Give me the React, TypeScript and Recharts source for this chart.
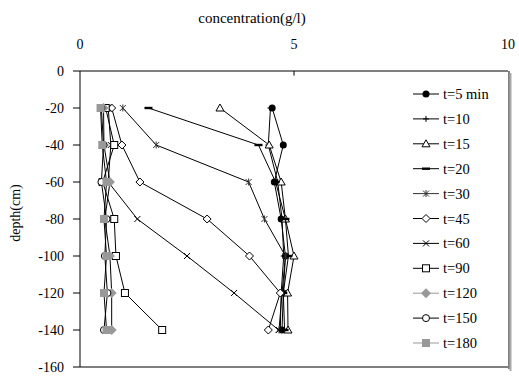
import React from 'react';
import { ScatterChart, Scatter, XAxis, YAxis, ReferenceLine, Label } from 'recharts';

const depths = [-20, -40, -60, -80, -100, -120, -140];
const t5 = [4.49, 4.75, 4.54, 4.7, 4.8, 4.75, 4.72];
const t10 = [4.45, 4.4, 4.62, 4.72, 4.76, 4.7, 4.68];
const t15 = [3.27, 4.42, 4.7, 4.8, 5.0, 4.85, 4.86];
const t20 = [1.6, 4.17, 4.57, 4.8, 4.87, 4.75, 4.78];
const t30 = [1.0, 1.78, 3.94, 4.31, 4.8, 4.72, 4.65];
const t45 = [0.74, 0.98, 1.4, 2.97, 3.96, 4.68, 4.4];
const t60 = [0.66, 0.72, 0.66, 1.34, 2.5, 3.6, 4.64];
const t90 = [0.6, 0.8, 0.53, 0.8, 0.84, 1.05, 1.92];
const t120 = [0.55, 0.56, 0.7, 0.58, 0.7, 0.74, 0.74];
const t150 = [0.5, 0.55, 0.5, 0.62, 0.58, 0.64, 0.56];
const t180 = [0.48, 0.52, 0.62, 0.56, 0.62, 0.56, 0.62];

const xTicks = [0, 5, 10];
const yTicks = [0, -20, -40, -60, -80, -100, -120, -140, -160];

const FONT = 'Liberation Serif';
const GRAY = '#999';

const series = [
  { name: 't=5 min', values: t5, marker: 'dot', color: '#000' },
  { name: 't=10', values: t10, marker: 'plus', color: '#000' },
  { name: 't=15', values: t15, marker: 'triangle', color: '#000' },
  { name: 't=20', values: t20, marker: 'dash', color: '#000' },
  { name: 't=30', values: t30, marker: 'star', color: '#333' },
  { name: 't=45', values: t45, marker: 'diamond', color: '#000' },
  { name: 't=60', values: t60, marker: 'cross', color: '#000' },
  { name: 't=90', values: t90, marker: 'square', color: '#000' },
  { name: 't=120', values: t120, marker: 'grayDiamond', color: GRAY },
  { name: 't=150', values: t150, marker: 'circle', color: '#000' },
  { name: 't=180', values: t180, marker: 'graySquare', color: GRAY },
];

function marker(kind: string, cx: number, cy: number) {
  switch (kind) {
    case 'dot':
      return <circle cx={cx} cy={cy} r={3.5} fill="#000" />;
    case 'plus':
      return (
        <g stroke="#000" strokeWidth={1}>
          <line x1={cx - 3} y1={cy} x2={cx + 3} y2={cy} />
          <line x1={cx} y1={cy - 3} x2={cx} y2={cy + 3} />
        </g>
      );
    case 'triangle':
      return <polygon points={`${cx},${cy - 4} ${cx - 4},${cy + 3} ${cx + 4},${cy + 3}`} fill="#fff" stroke="#000" />;
    case 'dash':
      return <rect x={cx - 4} y={cy - 1.2} width={8} height={2.4} fill="#000" />;
    case 'star':
      return (
        <g stroke="#333" strokeWidth={1}>
          <line x1={cx - 3} y1={cy - 3} x2={cx + 3} y2={cy + 3} />
          <line x1={cx - 3} y1={cy + 3} x2={cx + 3} y2={cy - 3} />
          <line x1={cx} y1={cy - 3.5} x2={cx} y2={cy + 3.5} />
        </g>
      );
    case 'diamond':
      return <polygon points={`${cx},${cy - 4} ${cx + 4},${cy} ${cx},${cy + 4} ${cx - 4},${cy}`} fill="#fff" stroke="#000" />;
    case 'cross':
      return (
        <g stroke="#000" strokeWidth={1}>
          <line x1={cx - 3} y1={cy - 3} x2={cx + 3} y2={cy + 3} />
          <line x1={cx - 3} y1={cy + 3} x2={cx + 3} y2={cy - 3} />
        </g>
      );
    case 'square':
      return <rect x={cx - 3.5} y={cy - 3.5} width={7} height={7} fill="#fff" stroke="#000" />;
    case 'grayDiamond':
      return <polygon points={`${cx},${cy - 5} ${cx + 5},${cy} ${cx},${cy + 5} ${cx - 5},${cy}`} fill={GRAY} />;
    case 'circle':
      return <circle cx={cx} cy={cy} r={3.5} fill="#fff" stroke="#000" />;
    case 'graySquare':
      return <rect x={cx - 4} y={cy - 4} width={8} height={8} fill={GRAY} />;
    default:
      return <g />;
  }
}

const textStyle = { fontFamily: FONT, fontSize: 14, fill: '#000' };

export default function App() {
  return (
    <div style={{ position: 'absolute', left: 0, top: 0, width: 519, height: 381, background: '#fff', fontFamily: FONT }}>
      <ScatterChart width={519} height={381} margin={{ top: 0, right: 11, bottom: 14, left: 0 }}>
        <XAxis
          type="number"
          dataKey="x"
          orientation="top"
          domain={[0, 10]}
          ticks={xTicks}
          height={71}
          tickLine={false}
          tickSize={0}
          tickMargin={22}
          axisLine={{ stroke: '#000' }}
          tick={{ ...textStyle, fontSize: 14 }}
        >
          <Label
            content={() => (
              <text x={252} y={23} textAnchor="middle" fontFamily={FONT} fontSize={15} fill="#000">
                concentration(g/l)
              </text>
            )}
          />
        </XAxis>
        <YAxis
          type="number"
          dataKey="y"
          domain={[-160, 0]}
          ticks={yTicks}
          width={80}
          tickSize={7}
          tickMargin={9}
          axisLine={{ stroke: '#000' }}
          tickLine={{ stroke: '#000' }}
          tick={{ ...textStyle, fontSize: 14 }}
        >
          <Label
            content={() => (
              <text
                x={20}
                y={213}
                textAnchor="middle"
                transform="rotate(-90 20 213)"
                fontFamily={FONT}
                fontSize={14}
                fill="#000"
              >
                depth(cm)
              </text>
            )}
          />
        </YAxis>
        <ReferenceLine y={-160} stroke="#000" ifOverflow="extendDomain" />
        <ReferenceLine segment={[{ x: 5, y: 0 }, { x: 5, y: -2.5 }]} stroke="#000" />
        {series.map((s) => (
          <Scatter
            key={s.name}
            name={s.name}
            data={depths.map((d, i) => ({ x: s.values[i], y: d }))}
            line={{ stroke: '#000', strokeWidth: 1 }}
            lineJointType="linear"
            isAnimationActive={false}
            shape={(p: any) => marker(s.marker, p.cx, p.cy)}
          />
        ))}
      </ScatterChart>
      <svg
        width={119}
        height={310}
        style={{ position: 'absolute', left: 400, top: 71 }}
      >
        <line x1={109} y1={0} x2={109} y2={298} stroke="#000" />
        <line x1={110.5} y1={2} x2={110.5} y2={300} stroke="#aaa" strokeWidth={2} />
        {series.map((s, i) => {
          const y = 23 + i * 24.9;
          return (
            <g key={s.name}>
              <line x1={13} y1={y} x2={39} y2={y} stroke={s.color} />
              {marker(s.marker, 26, y)}
              <text x={43} y={y} dominantBaseline="central" fontFamily={FONT} fontSize={14.5} fill="#000">
                {s.name}
              </text>
            </g>
          );
        })}
      </svg>
    </div>
  );
}
